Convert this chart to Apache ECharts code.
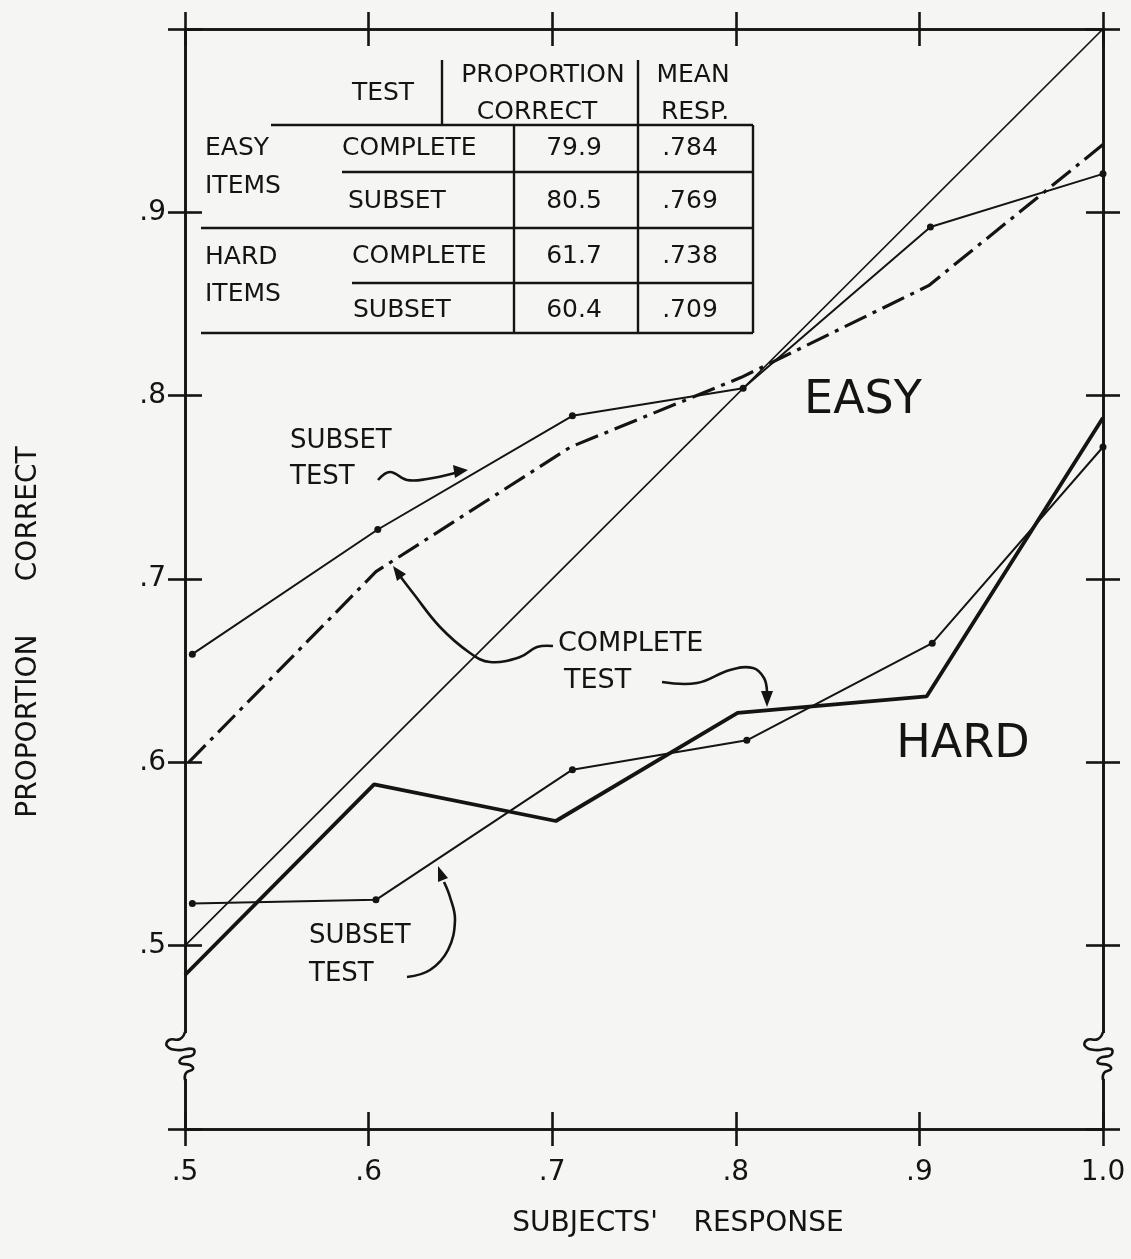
<!DOCTYPE html>
<html>
<head>
<meta charset="utf-8">
<script src="https://cdn.jsdelivr.net/npm/echarts@6/dist/echarts.min.js"></script>
<style>
  html, body { margin: 0; padding: 0; background: #f5f5f3; }
  #main { width: 1131px; height: 1259px; }
</style>
</head>
<body>
<div id="main"></div>
<script>
// ---- data ----
const xTickLabels = ['.5', '.6', '.7', '.8', '.9', '1.0']
const yTickLabels = ['', '.5', '.6', '.7', '.8', '.9', '']

const diagonal = [[0.5, 0.5], [1.0, 1.0]]
const easySubset = [[0.504, 0.659], [0.605, 0.727], [0.711, 0.789], [0.804, 0.804], [0.906, 0.892], [1.0, 0.921]]
const easyComplete = [[0.502, 0.600], [0.604, 0.704], [0.710, 0.772], [0.803, 0.810], [0.905, 0.860], [1.0, 0.937]]
const hardComplete = [[0.5, 0.484], [0.603, 0.588], [0.702, 0.568], [0.801, 0.627], [0.904, 0.636], [1.0, 0.788]]
const hardSubset = [[0.504, 0.523], [0.604, 0.525], [0.711, 0.596], [0.806, 0.612], [0.907, 0.665], [1.0, 0.772]]

// inset table
const itemGroups = ['EASY', 'HARD']
const testNames = ['COMPLETE', 'SUBSET', 'COMPLETE', 'SUBSET']
const propCorrect = ['79.9', '80.5', '61.7', '60.4']
const meanResp = ['.784', '.769', '.738', '.709']

const ink = '#141414'
const fam = '"DejaVu Sans", sans-serif'

var myChart = echarts.init(document.getElementById('main'), null, { renderer: 'canvas' })

function txt(x, y, s, size, align, rot) {
  return {
    type: 'text', x: x, y: y, rotation: rot || 0, z: 10,
    style: { text: s, fill: ink, font: `${size}px ${fam}`, align: align || 'left', verticalAlign: 'middle' }
  }
}
function ln(x1, y1, x2, y2, w) {
  return { type: 'line', z: 10, shape: { x1, y1, x2, y2 }, style: { stroke: ink, lineWidth: w || 2.4 } }
}
function curve(points) {
  return { type: 'polyline', z: 10, shape: { points: points, smooth: 0.4 }, style: { stroke: ink, lineWidth: 2.6, fill: null } }
}
function head(points) {
  return { type: 'polygon', z: 10, shape: { points: points }, style: { fill: ink } }
}
// axis break squiggle
function squiggle(cx) {
  const pts = [[0, 1032], [-5, 1039], [-16, 1040], [-18, 1046], [-8, 1050], [8, 1049], [8, 1055], [-3, 1058], [-5, 1063], [5, 1065], [8, 1069], [1, 1073], [0, 1080]]
  return [
    { type: 'rect', z: 9, shape: { x: cx - 3, y: 1033, width: 6, height: 46 }, style: { fill: '#f5f5f3' } },
    { type: 'polyline', z: 10, shape: { points: pts.map(p => [cx + p[0], p[1]]), smooth: 0.5 }, style: { stroke: ink, lineWidth: 2.6, fill: null } }
  ]
}

// table pieces
let graphics = []
const tf = 25
graphics.push(txt(383, 93, 'TEST', tf, 'center'))
graphics.push(txt(543, 75, 'PROPORTION', tf, 'center'))
graphics.push(txt(537, 112, 'CORRECT', tf, 'center'))
graphics.push(txt(693, 75, 'MEAN', tf, 'center'))
graphics.push(txt(695, 112, 'RESP.', tf, 'center'))
graphics.push(ln(442, 60, 442, 124), ln(638, 60, 638, 333), ln(271, 125, 753, 125), ln(753, 125, 753, 333),
  ln(514, 125, 514, 333), ln(342, 172, 753, 172), ln(201, 228, 753, 228), ln(352, 283, 753, 283), ln(201, 333, 753, 333))
const rowY = [148, 201, 256, 310]
const testX = [342, 348, 352, 353]
itemGroups.forEach((g, i) => {
  graphics.push(txt(205, [148, 257][i], g, tf))
  graphics.push(txt(205, [186, 294][i], 'ITEMS', tf))
})
testNames.forEach((t, i) => {
  graphics.push(txt(testX[i], rowY[i], t, tf))
  graphics.push(txt(574, rowY[i], propCorrect[i], tf, 'center'))
  graphics.push(txt(690, rowY[i], meanResp[i], tf, 'center'))
})

// labels and arrows
graphics.push(txt(863, 401, 'EASY', 46, 'center'))
graphics.push(txt(963, 745, 'HARD', 46, 'center'))
graphics.push(txt(290, 441, 'SUBSET', 26))
graphics.push(txt(290, 477, 'TEST', 26))
graphics.push(curve([[378, 480], [390, 472], [407, 480], [427, 479], [455, 473]]))
graphics.push(head([[468, 470], [453, 465], [455, 478]]))
graphics.push(txt(558, 644, 'COMPLETE', 27))
graphics.push(txt(564, 681, 'TEST', 27))
graphics.push(curve([[553, 646], [537, 647], [520, 657], [490, 662], [470, 653], [440, 627], [413, 593], [400, 576]]))
graphics.push(head([[393, 566], [406, 574], [397, 581]]))
graphics.push(curve([[662, 682], [697, 683], [730, 670], [753, 668], [764, 678], [767, 692]]))
graphics.push(head([[767, 707], [761, 691], [773, 691]]))
graphics.push(txt(309, 936, 'SUBSET', 26))
graphics.push(txt(309, 974, 'TEST', 26))
graphics.push(curve([[407, 977], [430, 970], [448, 950], [455, 920], [450, 897], [444, 882]]))
graphics.push(head([[438, 866], [448, 878], [438, 882]]))
// axis titles
graphics.push(txt(29, 632, 'PROPORTION      CORRECT', 28, 'center', Math.PI / 2))
graphics.push(txt(678, 1224, "SUBJECTS'    RESPONSE", 28, 'center'))
graphics = graphics.concat(squiggle(185), squiggle(1103))

const lineStyle = { color: ink, width: 2.6 }
function xAx(pos, inside, labels) {
  return {
    type: 'value', position: pos, min: 0.5, max: 1.0, interval: 0.1,
    axisLine: { show: true, lineStyle: lineStyle },
    axisTick: { show: true, inside: inside, length: 17, lineStyle: lineStyle },
    axisLabel: labels ? {
      show: true, margin: 30, color: ink, fontSize: 28, fontFamily: fam,
      formatter: (v, i) => xTickLabels[i]
    } : { show: false },
    splitLine: { show: false }
  }
}
function yAx(pos, inside, labels) {
  return {
    type: 'value', position: pos, min: 0.4, max: 1.0, interval: 0.1,
    axisLine: { show: true, onZero: false, lineStyle: lineStyle },
    axisTick: { show: true, inside: inside, length: 17, lineStyle: lineStyle },
    axisLabel: labels ? {
      show: true, margin: 19, color: ink, fontSize: 28, fontFamily: fam,
      formatter: (v, i) => yTickLabels[i]
    } : { show: false },
    splitLine: { show: false }
  }
}

myChart.setOption({
  animation: false,
  backgroundColor: '#f5f5f3',
  grid: { left: 185, right: 28, top: 29, bottom: 130, containLabel: false },
  xAxis: [xAx('bottom', false, true), xAx('bottom', true, false), xAx('top', false, false), xAx('top', true, false)],
  yAxis: [yAx('left', false, true), yAx('left', true, false), yAx('right', false, false), yAx('right', true, false)],
  graphic: graphics,
  series: [
    { name: 'diagonal', type: 'line', data: diagonal, symbol: 'none', lineStyle: { color: ink, width: 1.7 } },
    { name: 'easy subset', type: 'line', data: easySubset, symbol: 'circle', symbolSize: 7,
      itemStyle: { color: ink }, lineStyle: { color: ink, width: 2 } },
    { name: 'easy complete', type: 'line', data: easyComplete, symbol: 'none',
      lineStyle: { color: ink, width: 3.2, type: [24, 7, 4, 7], cap: 'butt' } },
    { name: 'hard complete', type: 'line', data: hardComplete, symbol: 'none', lineStyle: { color: ink, width: 3.8 } },
    { name: 'hard subset', type: 'line', data: hardSubset, symbol: 'circle', symbolSize: 7,
      itemStyle: { color: ink }, lineStyle: { color: ink, width: 2 } }
  ]
})
</script>
</body>
</html>
